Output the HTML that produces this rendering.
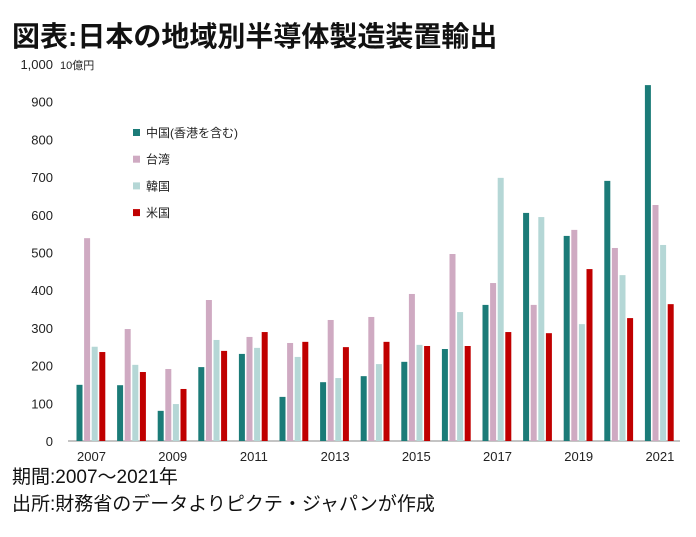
<!DOCTYPE html>
<html><head><meta charset="utf-8"><style>
body{margin:0;background:#fff;width:696px;height:532px;overflow:hidden;font-family:"Liberation Sans","Noto Sans CJK JP",sans-serif}
</style></head><body>
<svg width="696" height="532" id="svg" font-family="Liberation Sans, Noto Sans CJK JP, sans-serif">
<text x="12" y="46" font-size="28" font-weight="bold" fill="#111">図表:日本の地域別半導体製造装置輸出</text>
<text x="60" y="69" font-size="11" fill="#222">10億円</text>
<text x="12" y="483" font-size="19" fill="#111">期間:2007～2021年</text>
<text x="12" y="510" font-size="19" fill="#111">出所:財務省のデータよりピクテ・ジャパンが作成</text>
</svg>
<script>
const years=["2007","2008","2009","2010","2011","2012","2013","2014","2015","2016","2017","2018","2019","2020","2021"];
const china=[149,148,80,196,231,117,156,172,210,244,361,605,544,690,944];
const taiwan=[538,297,191,374,276,260,321,329,390,496,419,361,560,512,626];
const korea=[250,202,98,268,247,223,167,204,255,342,698,594,310,440,520];
const usa=[236,183,138,239,289,263,249,263,252,252,289,286,456,326,363];
const yTicks=[0,100,200,300,400,500,600,700,800,900,1000];
const seriesNames=["中国(香港を含む)","台湾","韓国","米国"];
const colors=["#1b7b78","#cfaac2","#b5d7d6","#c00000"];
const svg=document.getElementById('svg');
const NS="http://www.w3.org/2000/svg";
const y=v=>441-v*0.377;
const x=i=>91.5+i*40.6;
function mk(t,a){const e=document.createElementNS(NS,t);for(const k in a)e.setAttribute(k,a[k]);svg.appendChild(e);return e;}
yTicks.forEach(v=>{
  const t=mk('text',{x:53,y:y(v)+5,'font-size':13,fill:'#222','text-anchor':'end'});
  t.textContent=v===1000?"1,000":String(v);
  
  
});
const ax=mk('line',{x1:68,x2:680,y1:441,y2:441,stroke:'#888','stroke-width':1});


const data=[china,taiwan,korea,usa];
years.forEach((yr,i)=>{
  data.forEach((s,j)=>{
    const r=mk('rect',{x:x(i)-15+j*7.6,y:y(s[i]),width:6,height:441-y(s[i]),fill:colors[j]});
    
    
  });
  if(i%2===0){
    const t=mk('text',{x:x(i),y:461,'font-size':13,fill:'#222','text-anchor':'middle'});
    t.textContent=yr;
    
    
  }
});
seriesNames.forEach((n,j)=>{
  const yy=133+j*26.7;
  const r=mk('rect',{x:133,y:yy-4,width:7,height:7,fill:colors[j]});
  
  
  const t=mk('text',{x:146,y:yy+4,'font-size':12,fill:'#222'});
  t.textContent=n;
  
  
});
</script>
</body></html>
